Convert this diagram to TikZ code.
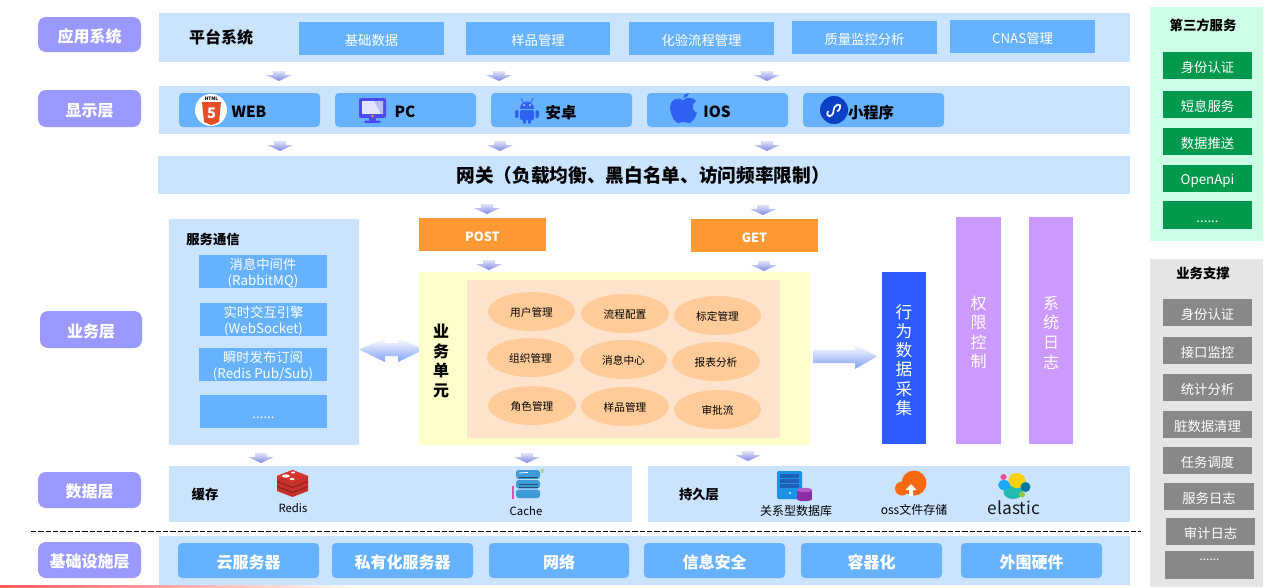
\documentclass[tikz,border=0pt]{standalone}
\usepackage{fontspec}
\setmainfont{Noto Sans CJK SC}
\usetikzlibrary{shapes.geometric}
\definecolor{band}{HTML}{CAE4FF}
\definecolor{boxblue}{HTML}{66B2FF}
\definecolor{layer}{HTML}{9999FF}
\definecolor{orangebox}{HTML}{FF9933}
\definecolor{yellowp}{HTML}{FFFFCC}
\definecolor{peach}{HTML}{FFE3CC}
\definecolor{oval}{HTML}{FFCC99}
\definecolor{purplebox}{HTML}{CC99FF}
\definecolor{bluebox}{HTML}{2C5CFF}
\definecolor{greenp}{HTML}{CCFFE5}
\definecolor{greenb}{HTML}{00994D}
\definecolor{grayp}{HTML}{E5E5E5}
\definecolor{grayb}{HTML}{888888}
\definecolor{icoblue}{HTML}{2F62F0}
\definecolor{arrowtop}{HTML}{E2E5FA}
\definecolor{arrowbot}{HTML}{7F88E4}
\definecolor{MidBlue}{HTML}{7FA0F5}
\definecolor{HTMLorange}{HTML}{E44D26}
\definecolor{MonBlue}{HTML}{4B4BF0}
\definecolor{MonPale}{HTML}{E2E5FF}
\definecolor{MonMid}{HTML}{B9BEF5}
\definecolor{MiniBlue}{HTML}{0B3FC4}
\definecolor{RedisRed}{HTML}{C6302B}
\definecolor{RedisDark}{HTML}{8A1F1B}
\definecolor{RedisTop}{HTML}{D8372F}
\definecolor{CacheBlue}{HTML}{3F9BD8}
\definecolor{CacheDark}{HTML}{1F4F70}
\definecolor{CachePink}{HTML}{E050B0}
\definecolor{CacheGreen}{HTML}{9AC83C}
\definecolor{ServerBlue}{HTML}{1E90E8}
\definecolor{ServerDark}{HTML}{1F5FB5}
\definecolor{CylPurple}{HTML}{8E2DA8}
\definecolor{CylLight}{HTML}{B45CCB}
\definecolor{OssOrange}{HTML}{F96A10}
\definecolor{ElTeal}{HTML}{24BBB1}
\definecolor{ElYellow}{HTML}{FED10A}
\definecolor{ElCyan}{HTML}{1BA9F5}
\definecolor{ElPink}{HTML}{EF5098}
\definecolor{ElBlue}{HTML}{0077A0}
\definecolor{ElGreen}{HTML}{93C83E}
\newcommand{\fz}[2]{\fontsize{#1pt}{#2pt}\selectfont}
\newcommand{\rect}[7]{\node[#2,minimum width={(#5-#3)*0.75pt},minimum height={(#6-#4)*0.75pt}] (#1) at ({(#3+#5)/2},{(#4+#6)/2}) {\rule{0pt}{1.08em}#7};}
\newcommand{\downarr}[2]{\shade[top color=arrowtop,bottom color=arrowbot] ({#1-6},{#2-10}) -- ({#1+6},{#2-10}) -- ({#1+6},{#2-6}) -- ({#1+13},{#2-6}) -- (#1,#2) -- ({#1-13},{#2-6}) -- ({#1-6},{#2-6}) -- cycle;}
\tikzset{
 x=0.75pt,y=-0.75pt,
 plain/.style={inner sep=0pt,outer sep=0pt},
 bandbox/.style={plain,fill=band},
 subbox/.style={plain,fill=boxblue,text=white,font=\fz{10}{12.5}},
 roundbox/.style={plain,fill=boxblue,rounded corners=3pt},
 infrabox/.style={roundbox,text=white,font=\fz{12}{14}\bfseries},
 layerbox/.style={plain,fill=layer,rounded corners=6pt,text=white,font=\fz{12}{14}\bfseries},
 methodbox/.style={plain,fill=orangebox,text=white,font=\fz{9.5}{12}\bfseries},
 ovalbox/.style={plain,ellipse,fill=oval,text=black,font=\fz{8}{10}},
 colbox/.style={plain,align=center,text=white,font=\fz{12}{14.7}},
 greenbox/.style={plain,fill=greenb,text=white,font=\fz{10}{12}},
 graybox/.style={plain,fill=grayb,text=white,font=\fz{10}{12}},
 titletext/.style={plain,text=black,font=\fz{10}{12}\bfseries},
 iconlabel/.style={plain,text=black,font=\fz{11.5}{14}\bfseries},
 captext/.style={plain,text=black,font=\fz{8.5}{10}},
}
\begin{document}
\begin{tikzpicture}
\useasboundingbox (0,0) rectangle (1280,587);
% bottom accent line
\shade[left color=red!65,right color=white] (0,585.5) rectangle (360,587);
% layer labels
\rect{lApp}{layerbox}{38}{17}{141}{52}{应用系统}
\rect{lShow}{layerbox}{38}{90}{141}{127}{显示层}
\rect{lBiz}{layerbox}{40}{311}{142}{348}{业务层}
\rect{lData}{layerbox}{38}{472}{141}{508}{数据层}
\rect{lInfra}{layerbox}{38}{542}{141}{578}{基础设施层}
% platform row
\rect{bApp}{bandbox}{159}{13}{1130}{62}{}
\node[plain,font=\fz{12}{14}\bfseries] (tPlat) at (221,37) {平台系统};
\rect{a1}{subbox}{299}{22}{444}{55}{基础数据}
\rect{a2}{subbox}{466}{22}{610}{55}{样品管理}
\rect{a3}{subbox}{629}{22}{774}{55}{化验流程管理}
\rect{a4}{subbox}{792}{21}{937}{54}{质量监控分析}
\rect{a5}{subbox}{950}{20}{1095}{53}{CNAS管理}
\downarr{279}{81}\downarr{499}{81}\downarr{767}{81}
% display row
\rect{bShow}{bandbox}{159}{86}{1130}{134}{}
\rect{s1}{roundbox}{179}{93}{320}{127}{}
\rect{s2}{roundbox}{335}{93}{476}{127}{}
\rect{s3}{roundbox}{491}{93}{632}{127}{}
\rect{s4}{roundbox}{647}{93}{788}{127}{}
\rect{s5}{roundbox}{803}{93}{944}{127}{}
% html5 icon
\fill[white] (211,110) circle (16);
\fill[HTMLorange] (202,102) -- (221,102) -- (219,122) -- (211.5,125) -- (204,122) -- cycle;
\node[plain,text=white,font=\fz{11}{12}\bfseries] (i5) at (211.5,113) {5};
\node[plain,font=\fz{3.5}{4}\bfseries] (iH) at (211.5,98.5) {HTML};
\node[iconlabel] (tWeb) at (249,112) {WEB};
% monitor icon
\fill[rounded corners=1.5pt,fill=MonBlue] (359,98) rectangle (386,118);
\fill[fill=MonPale] (362,101) rectangle (383,114);
\fill[fill=MonMid] (374,101) -- (383,101) -- (383,114) -- (381,114) -- cycle;
\fill[fill=orangebox] (372.5,116) circle (1.3);
\fill[fill=MonBlue] (369,118) rectangle (376,121);
\fill[rounded corners=1pt,fill=MonBlue] (364,120.5) rectangle (381,123);
\node[iconlabel] (tPc) at (405,112) {PC};
% android icon
\fill[icoblue] (520,109) .. controls (520,99) and (534,99) .. (534,109) -- cycle;
\draw[icoblue,line width=0.6pt] (523,102) -- (521,98);
\draw[icoblue,line width=0.6pt] (531,102) -- (533,98);
\fill[white] (524,105) circle (0.9);
\fill[white] (530,105) circle (0.9);
\fill[icoblue,rounded corners=1pt] (520,110) rectangle (534,120);
\fill[icoblue,rounded corners=1pt] (515,110) rectangle (518.5,118);
\fill[icoblue,rounded corners=1pt] (535.5,110) rectangle (539,118);
\fill[icoblue,rounded corners=1pt] (523,118) rectangle (526,124);
\fill[icoblue,rounded corners=1pt] (528,118) rectangle (531,124);
\node[iconlabel] (tAnd) at (561,113) {安卓};
% apple icon
\fill[icoblue] (683,100) .. controls (679,97) and (671,98) .. (670,107) .. controls (670,114) and (675,123) .. (678,123) .. controls (680,123) and (681,122) .. (683,122) .. controls (686,122) and (687,123) .. (689,123) .. controls (692,123) and (696,117) .. (697,113) .. controls (692,111) and (691,104) .. (696,101) .. controls (693,97) and (687,97) .. (683,100) -- cycle;
\fill[icoblue] (683,98) .. controls (683,95) and (686,93) .. (689,93) .. controls (689,96) and (686,98) .. (683,98) -- cycle;
\node[iconlabel] (tIos) at (717,112) {IOS};
% mini program icon
\fill[MiniBlue] (834,110) circle (14);
\draw[white!80!band,line width=1.3pt] (828,111) .. controls (825,118) and (833,118) .. (833.5,111) .. controls (834,103) and (842,103) .. (840,108) .. controls (839.5,110.5) and (838,111) .. (837,111);
\node[iconlabel] (tMini) at (871,113) {小程序};
\downarr{280}{151}\downarr{500}{151}\downarr{767}{151}
% gateway
\rect{bGate}{bandbox}{158}{156}{1130}{194}{}
\node[plain,font=\fz{14}{16}\bfseries] (tGate) at (643,175.5) {网关（负载均衡、黑白名单、访问频率限制）};
\downarr{487}{214}\downarr{763}{215}
\rect{mPost}{methodbox}{419}{218}{546}{251}{POST}
\rect{mGet}{methodbox}{691}{219}{818}{252}{GET}
\downarr{489}{270}\downarr{764}{271}
% service communication
\rect{pComm}{bandbox}{169}{219}{359}{445}{}
\node[titletext] (tComm) at (213,239) {服务通信};
\rect{c1}{subbox,align=center}{199}{255}{327}{288}{消息中间件\\(RabbitMQ)}
\rect{c2}{subbox,align=center}{200}{303}{327}{336}{实时交互引擎\\(WebSocket)}
\rect{c3}{subbox,align=center}{199}{348}{327}{381}{瞬时发布订阅\\(Redis Pub/Sub)}
\rect{c4}{subbox}{200}{395}{327}{428}{......}
% double arrow
\shade[top color=white,bottom color=MidBlue] (359,349.5) -- (385,338) -- (385,343) -- (398,343) -- (398,338) -- (424,349.5) -- (398,362) -- (398,356) -- (385,356) -- (385,362) -- cycle;
% business unit
\rect{pBiz}{plain,fill=yellowp}{419}{272}{810}{445}{}
\rect{pIn}{plain,fill=peach}{467}{280}{780}{438}{}
\node[plain,align=center,font=\fz{12}{14.7}\bfseries] (tBiz) at (441,361) {业\\务\\单\\元};
\rect{o1}{ovalbox}{488}{292}{575}{331}{用户管理}
\rect{o2}{ovalbox}{581}{294}{669}{333}{流程配置}
\rect{o3}{ovalbox}{674}{296}{761}{335}{标定管理}
\rect{o4}{ovalbox}{487}{338}{574}{377}{组织管理}
\rect{o5}{ovalbox}{580}{340}{667}{379}{消息中心}
\rect{o6}{ovalbox}{672}{342}{760}{381}{报表分析}
\rect{o7}{ovalbox}{488}{386}{576}{425}{角色管理}
\rect{o8}{ovalbox}{581}{387}{669}{426}{样品管理}
\rect{o9}{ovalbox}{674}{390}{761}{429}{审批流}
% right arrow
\shade[top color=white,bottom color=MidBlue] (813,350) -- (855,350) -- (855,344) -- (877,356.5) -- (855,369) -- (855,363) -- (813,363) -- cycle;
% columns
\rect{col1}{colbox,fill=bluebox,font=\fz{12.5}{14.4}}{882}{272}{926}{444}{行\\为\\数\\据\\采\\集}
\rect{col2}{colbox,fill=purplebox}{956}{217}{1001}{444}{权\\限\\控\\制}
\rect{col3}{colbox,fill=purplebox}{1029}{217}{1073}{444}{系\\统\\日\\志}
% data layer
\downarr{261}{463}\downarr{527}{463}\downarr{748}{461}
\rect{pCache}{bandbox}{169}{466}{632}{522}{}
\rect{pPersist}{bandbox}{648}{466}{1130}{522}{}
\node[titletext] (tCache) at (205,494) {缓存};
\node[titletext] (tPersist) at (699,494) {持久层};
% redis icon
\fill[RedisRed] (277,476) -- (292.5,470) -- (308,476) -- (308,491) -- (292.5,497) -- (277,491) -- cycle;
\draw[RedisDark,line width=0.7pt] (277,481.5) -- (292.5,487.5) -- (308,481.5);
\draw[RedisDark,line width=0.7pt] (277,486.5) -- (292.5,492.5) -- (308,486.5);
\fill[RedisTop] (277,476) -- (292.5,470) -- (308,476) -- (292.5,482) -- cycle;
\fill[white] (286,476) ellipse (4 and 1.6);
\fill[white] (293,472.5) ellipse (2 and 1);
\fill[white] (292,479) ellipse (2.5 and 1);
\node[captext] (tRedis) at (293,508) {Redis};
% cache icon
\foreach \ya/\yb in {470/479,480/488.5,489.5/498}{
 \fill[CacheBlue,rounded corners=2pt] (516,\ya) rectangle (540,\yb);
}
\draw[CacheDark,line width=0.5pt] (519,477) -- (538,477);
\draw[CacheDark,line width=0.5pt] (519,484) -- (538,484);
\draw[CacheDark,line width=0.5pt] (519,487) -- (538,487);
\draw[white,line width=0.6pt] (519,473) -- (528,472.5);
\draw[CachePink,line width=1pt] (513,486) -- (513,499);
\draw[CacheGreen,line width=0.6pt] (541,469) -- (542.5,471.5) -- (544,469) (542.5,471.5) -- (542.5,473);
\node[captext] (tCacheL) at (526,511) {Cache};
% server icon
\fill[ServerBlue,rounded corners=1pt] (777,471) rectangle (802,499);
\foreach \ya in {474,479,484}{\fill[ServerDark] (780,\ya) rectangle (799,{\ya+4});}
\fill[white] (790,493) circle (1.2);
\fill[CylPurple] (797,490) rectangle (812,499) ;
\fill[CylPurple] (804.5,499) ellipse (7.5 and 2.2);
\fill[CylLight] (804.5,490) ellipse (7.5 and 2.2);
\node[captext,font=\fz{9}{11}] (tRel) at (796,511) {关系型数据库};
% oss icon
\fill[OssOrange] (914,483) circle (12.5);
\fill[OssOrange] (902,488.5) circle (7);
\fill[white] (911,484) -- (916.5,490) -- (913,490) -- (913,496) -- (909,496) -- (909,490) -- (905.5,490) -- cycle;
\node[captext,font=\fz{9}{11}] (tOss) at (914,510) {oss文件存储};
% elastic icon
\fill[ElTeal] (1013,492) ellipse (9.5 and 7);
\fill[ElYellow] (1017,480.5) ellipse (8.5 and 7.5);
\fill[ElCyan] (1004,485) ellipse (6 and 5);
\fill[ElPink] (1003.5,477) ellipse (3.2 and 3);
\fill[ElBlue] (1025.5,487) ellipse (5 and 5);
\fill[ElGreen] (1022,494.5) ellipse (3 and 3);
\node[plain,font=\fz{13}{15},text=black!90] (tEl) at (1014,508) {elastic};
% dashed separator
\coordinate (dashL) at (31,531.5);
\coordinate (dashR) at (1141,531.5);
\draw[black,line width=0.7pt,dash pattern=on 4pt off 1.5pt] (dashL) -- (dashR);
% infrastructure
\rect{bInfra}{bandbox}{159}{536}{1130}{585}{}
\rect{f1}{infrabox}{178}{543}{319}{578}{云服务器}
\rect{f2}{infrabox}{332}{543}{473}{578}{私有化服务器}
\rect{f3}{infrabox}{489}{543}{629}{578}{网络}
\rect{f4}{infrabox}{644}{543}{785}{578}{信息安全}
\rect{f5}{infrabox}{801}{543}{942}{578}{容器化}
\rect{f6}{infrabox}{961}{543}{1102}{578}{外围硬件}
% third party
\rect{pThird}{plain,fill=greenp}{1150}{7}{1263}{241}{}
\node[titletext] (tThird) at (1203,25) {第三方服务};
\rect{g1}{greenbox}{1163}{52}{1252}{79}{身份认证}
\rect{g2}{greenbox}{1163}{91}{1252}{118}{短息服务}
\rect{g3}{greenbox}{1163}{128}{1252}{155}{数据推送}
\rect{g4}{greenbox}{1163}{165}{1252}{192}{OpenApi}
\rect{g5}{greenbox}{1163}{201}{1252}{229}{......}
% support
\rect{pSup}{plain,fill=grayp}{1150}{259}{1263}{587}{}
\node[titletext] (tSup) at (1203,273) {业务支撑};
\rect{h1}{graybox}{1163}{299}{1252}{326}{身份认证}
\rect{h2}{graybox}{1163}{337}{1252}{364}{接口监控}
\rect{h3}{graybox}{1163}{374}{1252}{401}{统计分析}
\rect{h4}{graybox}{1163}{411}{1252}{438}{脏数据清理}
\rect{h5}{graybox}{1163}{447}{1252}{474}{任务调度}
\rect{h6}{graybox}{1164}{483}{1254}{510}{服务日志}
\rect{h7}{graybox}{1166}{518}{1255}{545}{审计日志}
\rect{h8}{graybox}{1165}{551}{1254}{579}{}
\node[plain,text=white,font=\fz{9}{11}] (h8t) at (1209.5,560) {......};
\end{tikzpicture}
\end{document}
